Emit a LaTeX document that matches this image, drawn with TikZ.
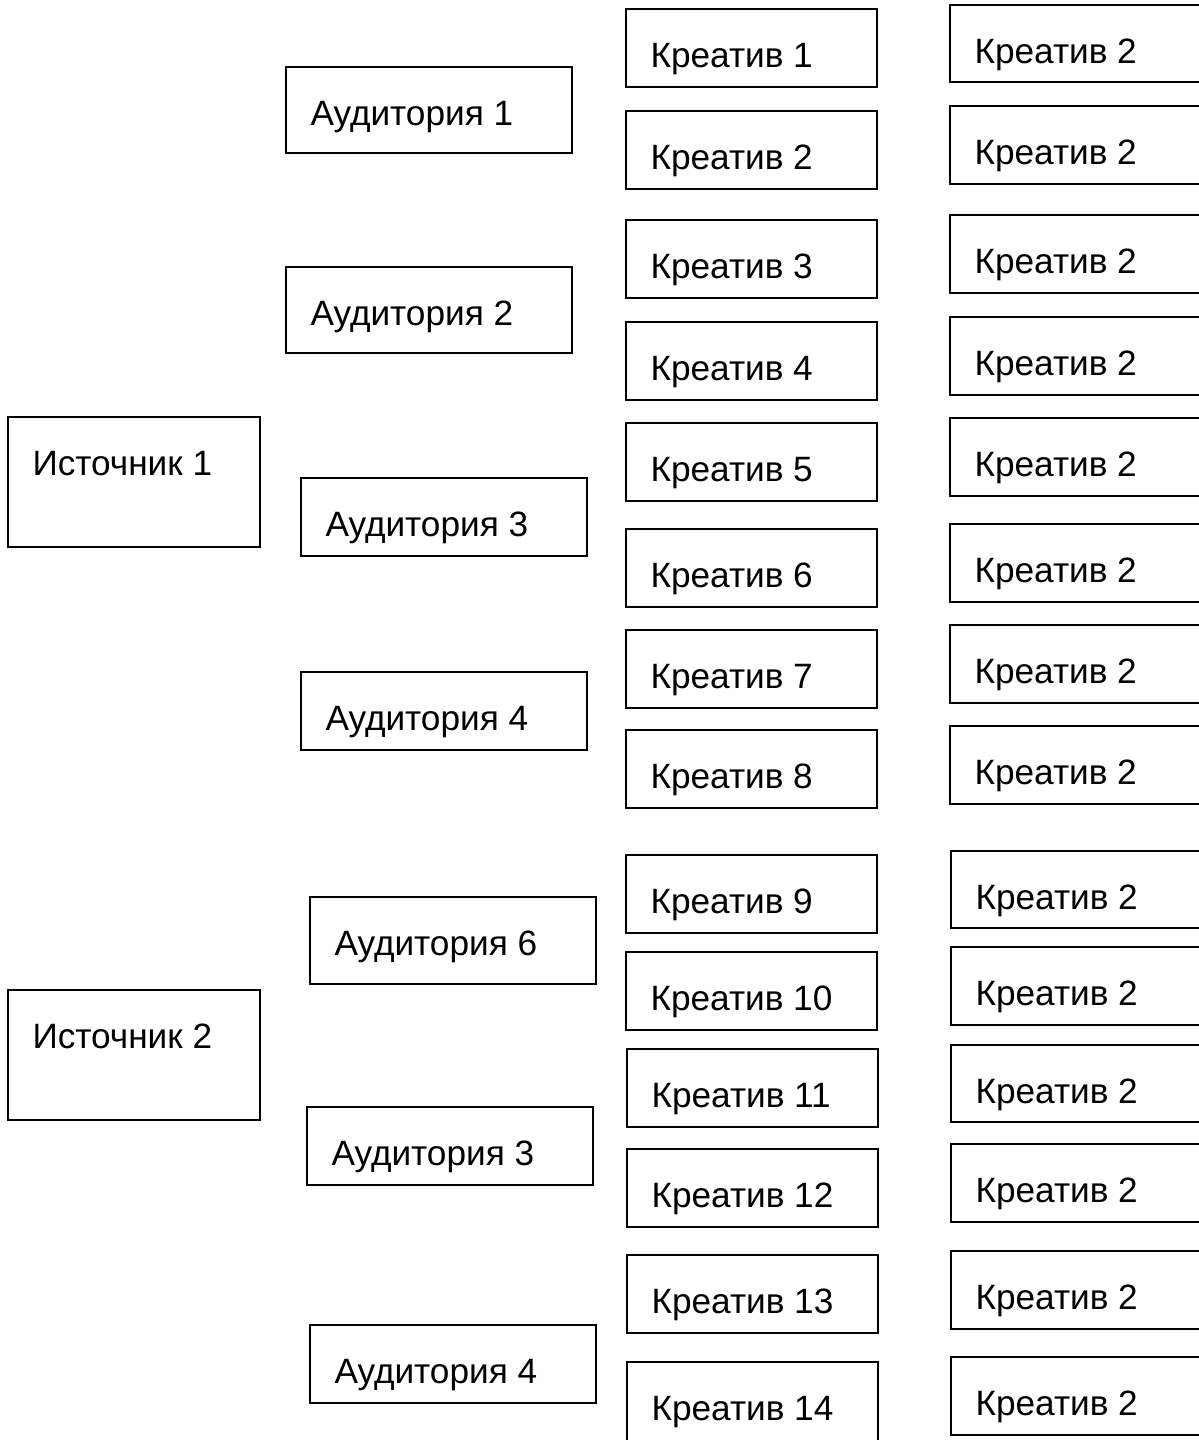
\documentclass[tikz,border=0pt]{standalone}
\usepackage{fontspec}
\setmainfont{Liberation Sans}
\tikzset{
  boxshape/.style={draw=black, line width=1.5pt, rectangle, inner sep=0pt, outer sep=0pt, fill=white},
  boxtext/.style={inner sep=0pt, outer sep=0pt, font=\fontsize{35.2}{41}\selectfont, anchor=base west},
}
% #1 name, #2 x1, #3 y1, #4 x2, #5 y2, #6 text
\newcommand\mybox[6]{%
  \node[boxshape, anchor=north west, minimum width={#4-#2}, minimum height={#5-#3}] (#1) at (#2,#3) {};
  \node[boxtext] (#1t) at ([xshift=24.5pt,yshift=-58pt]#1.north west) {#6};
}
\begin{document}
\begin{tikzpicture}[x=1pt,y=-1pt]
\clip (0,0) rectangle (1199,1440);
\fill[white] (0,0) rectangle (1199,1440);
% sources
\mybox{s1}{8}{417}{260}{547}{Источник 1}
\mybox{s2}{8}{990}{260}{1120}{Источник 2}
% audiences
\mybox{a1}{286}{67}{572}{153}{Аудитория 1}
\mybox{a2}{286}{267}{572}{353}{Аудитория 2}
\mybox{a3}{301}{478}{587}{556}{Аудитория 3}
\mybox{a4}{301}{672}{587}{750}{Аудитория 4}
\mybox{a6}{310}{897}{596}{984}{Аудитория 6}
\mybox{a3b}{307}{1107}{593}{1185}{Аудитория 3}
\mybox{a4b}{310}{1325}{596}{1403}{Аудитория 4}
% creatives
\mybox{k1}{626}{9}{877}{87}{Креатив 1}
\mybox{k2}{626}{111}{877}{189}{Креатив 2}
\mybox{k3}{626}{220}{877}{298}{Креатив 3}
\mybox{k4}{626}{322}{877}{400}{Креатив 4}
\mybox{k5}{626}{423}{877}{501}{Креатив 5}
\mybox{k6}{626}{529}{877}{607}{Креатив 6}
\mybox{k7}{626}{630}{877}{708}{Креатив 7}
\mybox{k8}{626}{730}{877}{808}{Креатив 8}
\mybox{k9}{626}{855}{877}{933}{Креатив 9}
\mybox{k10}{626}{952}{877}{1030}{Креатив 10}
\mybox{k11}{627}{1049}{878}{1127}{Креатив 11}
\mybox{k12}{627}{1149}{878}{1227}{Креатив 12}
\mybox{k13}{627}{1255}{878}{1333}{Креатив 13}
\mybox{k14}{627}{1362}{878}{1442}{Креатив 14}
% right column
\mybox{r1}{950}{5}{1210}{82}{Креатив 2}
\mybox{r2}{950}{106}{1210}{184}{Креатив 2}
\mybox{r3}{950}{215}{1210}{293}{Креатив 2}
\mybox{r4}{950}{317}{1210}{395}{Креатив 2}
\mybox{r5}{950}{418}{1210}{496}{Креатив 2}
\mybox{r6}{950}{524}{1210}{602}{Креатив 2}
\mybox{r7}{950}{625}{1210}{703}{Креатив 2}
\mybox{r8}{950}{726}{1210}{804}{Креатив 2}
\mybox{r9}{951}{851}{1210}{928}{Креатив 2}
\mybox{r10}{951}{947}{1210}{1025}{Креатив 2}
\mybox{r11}{951}{1045}{1210}{1122}{Креатив 2}
\mybox{r12}{951}{1144}{1210}{1222}{Креатив 2}
\mybox{r13}{951}{1251}{1210}{1329}{Креатив 2}
\mybox{r14}{951}{1357}{1210}{1435}{Креатив 2}
\end{tikzpicture}
\end{document}
